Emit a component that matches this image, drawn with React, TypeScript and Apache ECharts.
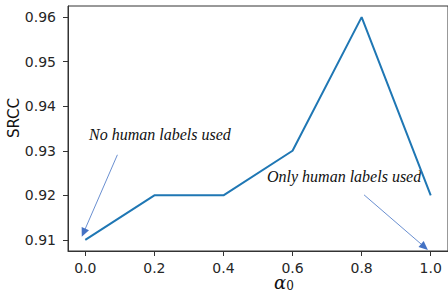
import React, { useEffect, useRef } from "react";
import * as echarts from "echarts";

const alphaValues = [0.0, 0.2, 0.4, 0.6, 0.8, 1.0];
const srccValues = [0.91, 0.92, 0.92, 0.93, 0.96, 0.92];
const xTicks = [0.0, 0.2, 0.4, 0.6, 0.8, 1.0];
const yTicks = [0.91, 0.92, 0.93, 0.94, 0.95, 0.96];
const annotations = [
  { text: "No human labels used", from: [0.093, 0.9291], to: [-0.005, 0.9116] },
  { text: "Only human labels used", from: [0.807, 0.9201], to: [0.982, 0.9084] },
];

export default function App() {
  const ref = useRef<HTMLDivElement>(null);
  useEffect(() => {
    if (!ref.current) return;
    const chart = echarts.init(ref.current, null, { renderer: "svg" });
    const tickFont = { fontFamily: "DejaVu Sans", fontSize: 14, color: "#262626" };
    chart.setOption({
      animation: false,
      backgroundColor: "#ffffff",
      grid: { left: 68, top: 6, width: 382, height: 245, show: true, borderColor: "#333", borderWidth: 1, backgroundColor: "transparent" },
      xAxis: {
        type: "value",
        min: -0.05,
        max: 1.05,
        axisLine: { show: true, onZero: false, lineStyle: { color: "#333", width: 1 } },
        axisTick: { show: true, length: 5, customValues: xTicks, lineStyle: { color: "#333" } },
        axisLabel: { ...tickFont, margin: 10, customValues: xTicks, formatter: (v: number) => v.toFixed(1) },
        splitLine: { show: false },
      },
      yAxis: {
        type: "value",
        min: 0.9075,
        max: 0.9625,
        axisLine: { show: true, onZero: false, lineStyle: { color: "#333", width: 1 } },
        axisTick: { show: true, length: 5, customValues: yTicks, lineStyle: { color: "#333" } },
        axisLabel: { ...tickFont, margin: 12, customValues: yTicks, formatter: (v: number) => v.toFixed(2) },
        splitLine: { show: false },
      },
      series: [
        {
          type: "line",
          data: alphaValues.map((a, i) => [a, srccValues[i]]),
          symbol: "none",
          lineStyle: { color: "#1f77b4", width: 2 },
          markLine: {
            silent: true,
            symbol: ["none", "triangle"],
            symbolSize: [8, 9],
            label: { show: false },
            lineStyle: { color: "#4472c4", width: 0.8, type: "solid" },
            itemStyle: { color: "#4472c4" },
            data: annotations.map((a) => [
              { coord: a.from },
              { coord: a.to },
            ]),
          },
        },
      ],
      graphic: [
        {
          type: "text",
          left: 89,
          top: 126,
          style: { text: annotations[0].text, fontFamily: "Liberation Serif", fontStyle: "italic", fontSize: 16, fill: "#111" },
        },
        {
          type: "text",
          left: 267,
          top: 168,
          style: { text: annotations[1].text, fontFamily: "Liberation Serif", fontStyle: "italic", fontSize: 16, fill: "#111" },
        },
        {
          type: "text",
          x: 14,
          y: 118,
          rotation: Math.PI / 2,
          style: { text: "SRCC", fontFamily: "DejaVu Sans", fontSize: 15, fill: "#111", align: "center", verticalAlign: "middle" },
        },
        {
          type: "text",
          x: 284,
          y: 282,
          style: {
            text: "{a|α}{s|0}",
            align: "center",
            verticalAlign: "middle",
            rich: {
              a: { fontFamily: "DejaVu Serif", fontStyle: "italic", fontSize: 18, fill: "#111", color: "#111" },
              s: { fontFamily: "DejaVu Serif", fontSize: 12, fill: "#111", color: "#111", padding: [8, 0, 0, 0] },
            },
          },
        },
      ],
    });
    return () => chart.dispose();
  }, []);
  return <div ref={ref} style={{ width: 448, height: 299, position: "absolute", left: 0, top: 0 }} />;
}
